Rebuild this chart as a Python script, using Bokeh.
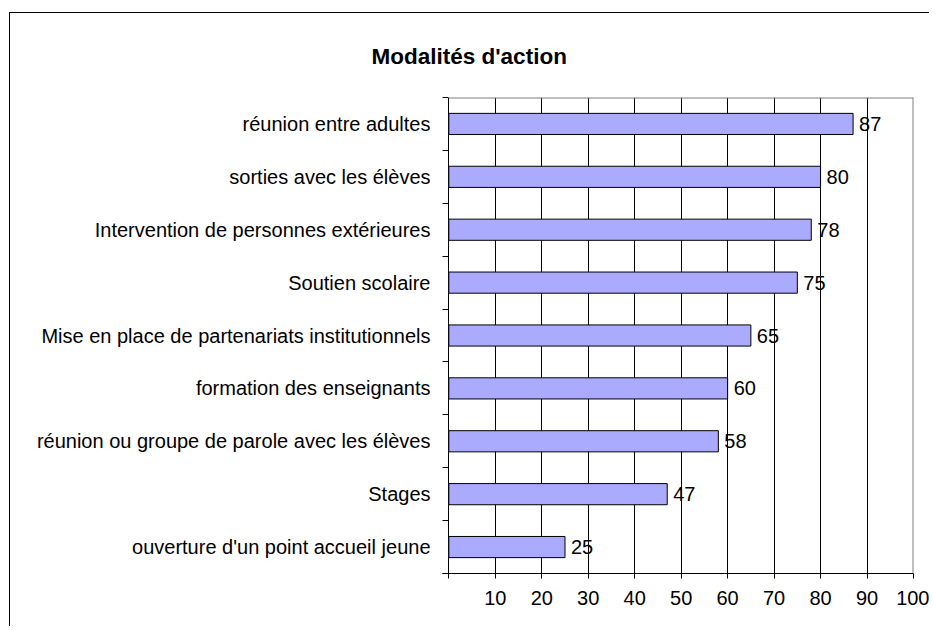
from bokeh.plotting import figure
from bokeh.models import Range1d, FixedTicker, Title
from bokeh.core.properties import value
from bokeh.embed import file_html
from bokeh.resources import INLINE

categories = [
    "réunion entre adultes",
    "sorties avec les élèves",
    "Intervention de personnes extérieures",
    "Soutien scolaire",
    "Mise en place de partenariats institutionnels",
    "formation des enseignants",
    "réunion ou groupe de parole avec les élèves",
    "Stages",
    "ouverture d'un point accueil jeune",
]
values = [87, 80, 78, 75, 65, 60, 58, 47, 25]
value_labels = ["87", "80", "78", "75", "65", "60", "58", "47", "25"]
x_ticks = [0, 10, 20, 30, 40, 50, 60, 70, 80, 90, 100]

n = len(categories)
ys = [n - i - 0.5 for i in range(n)]
FONT = "Liberation Sans"
FS = "20px"

p = figure(width=920, height=614, output_backend="svg", toolbar_location=None,
           x_range=Range1d(-1.36, 100), y_range=Range1d(0, n),
           min_border_left=432, min_border_right=17, min_border_top=84,
           min_border_bottom=54)
# outer chart border: left and top edges
p.styles = {"margin-left": "9px", "margin-top": "12px",
            "border-left": "1px solid #000000", "border-top": "1px solid #000000"}
p.outline_line_color = None
p.background_fill_color = "white"
p.border_fill_color = "white"

p.title = Title(text="Modalités d'action", align="left", offset=-71,
                text_font=FONT, text_font_size="22.5px", text_font_style="bold",
                text_color="black", standoff=57)

# grid
p.ygrid.grid_line_color = None
p.xgrid.ticker = FixedTicker(ticks=x_ticks)
p.xgrid.grid_line_color = "#000000"
p.xgrid.grid_line_width = 1

# x axis
xa = p.xaxis[0]
xa.ticker = FixedTicker(ticks=x_ticks)
xa.major_label_overrides = {0: ""}
xa.major_tick_in = 0
xa.major_tick_out = 5
xa.minor_tick_line_color = None
xa.axis_line_color = "#000000"
xa.major_tick_line_color = "#000000"
xa.major_label_text_font = FONT
xa.major_label_text_font_size = FS
xa.major_label_text_color = "black"
xa.major_label_standoff = 12

# y axis
ya = p.yaxis[0]
ya.ticker = FixedTicker(ticks=ys, minor_ticks=list(range(n + 1)))
ya.major_label_overrides = {y: c for y, c in zip(ys, categories)}
ya.axis_line_color = None
ya.major_tick_line_color = None
ya.major_tick_in = 0
ya.major_tick_out = 0
ya.minor_tick_line_color = "#000000"
ya.minor_tick_in = 6
ya.minor_tick_out = 0
ya.major_label_text_font = FONT
ya.major_label_text_font_size = FS
ya.major_label_text_color = "black"
ya.major_label_standoff = 12

# frame borders (top and right, gray)
p.segment(x0=[0, x_ticks[-1]], y0=[n, 0], x1=[x_ticks[-1], x_ticks[-1]], y1=[n, n],
          line_color="#808080", line_width=2)

p.hbar(y=ys, right=values, left=0, height=0.4, fill_color="#aaaaff",
       line_color="#000000", line_width=1)

p.text(x=values, y=ys, text=value_labels, x_offset=6, text_align="left",
       text_baseline="middle", text_font=value(FONT), text_font_size=value(FS),
       text_color="black")

open("out.html", "w").write(file_html(p, INLINE))
